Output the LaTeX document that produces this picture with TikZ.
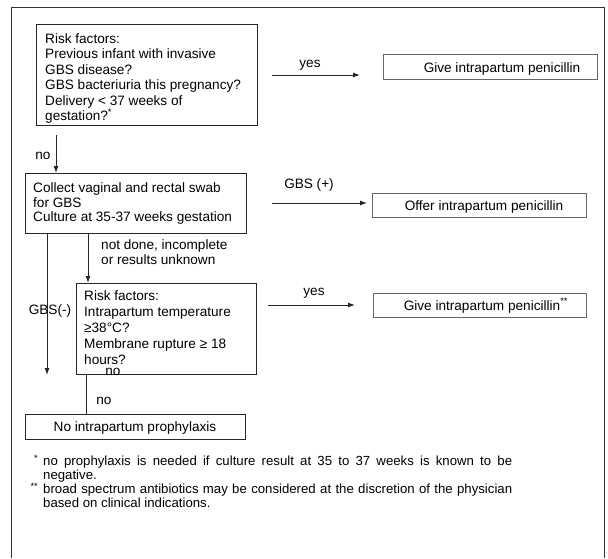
\documentclass[tikz,border=0pt]{standalone}
\usepackage{fontspec}
\setmainfont{Liberation Sans}
\usetikzlibrary{arrows.meta}
\begin{document}
\begin{tikzpicture}[x=1pt,y=-1pt,
  every node/.style={font=\fontsize{13.6}{15.4}\selectfont, inner sep=0pt},
  box/.style={draw=black!85, line width=1pt, anchor=north west, rectangle},
  rbox/.style={draw=black!60, line width=0.9pt, anchor=north west, rectangle},
  txt/.style={anchor=north west, align=left},
  lab/.style={anchor=base},
  conn/.style={draw=black!85, line width=1pt},
  arr/.style={conn, -{Latex[length=7pt,width=5pt]}}
]
\useasboundingbox (0,0) rectangle (608,558);
% outer frame
\coordinate (fbl) at (11,558);
\coordinate (ftl) at (11,7);
\coordinate (ftr) at (604,7);
\coordinate (fbr) at (604,558);
\draw[black!80, line width=1pt] (fbl) -- (ftl) -- (ftr) -- (fbr);

% boxes
\node[box, minimum width=221, minimum height=101] (b1) at (36,24) {};
\node[txt] (b1t) at (45,33.5) {Risk factors:\\Previous infant with invasive\\GBS disease?\\GBS bacteriuria this pregnancy?\\Delivery < 37 weeks of\\gestation?\textsuperscript{*}};

\node[rbox, minimum width=214, minimum height=25] (g1) at (383,54) {};
\node[lab] (g1t) at (502,72) {Give intrapartum penicillin};

\node[box, minimum width=221, minimum height=60] (b2) at (25,173) {};
\node[txt, font=\fontsize{13.6}{14.6}\selectfont] (b2t) at (33,182.5) {Collect vaginal and rectal swab\\for GBS\\Culture at 35-37 weeks gestation};

\node[rbox, minimum width=214, minimum height=24] (off) at (372,193) {};
\node[lab] (offt) at (484,210) {Offer intrapartum penicillin};

\node[box, minimum width=180, minimum height=91] (b3) at (76,283) {};
\node[txt, font=\fontsize{13.6}{16.2}\selectfont] (b3t) at (84,290) {Risk factors:\\Intrapartum temperature\\≥38°C?\\Membrane rupture ≥ 18\\hours?};

\node[rbox, minimum width=213, minimum height=24] (g2) at (373,293) {};
\node[lab] (g2t) at (486,310) {Give intrapartum penicillin\textsuperscript{**}};

\node[box, minimum width=220, minimum height=25] (nob) at (25,414) {};
\node[lab] (nobt) at (135,431) {No intrapartum prophylaxis};

% connectors
\coordinate (y1s) at (272,75);
\draw[arr, shorten >=23pt] (y1s) -- (y1s -| g1.west);
\node[lab] (lyes1) at (310,67) {yes};

\coordinate (n1s) at (56,135);
\draw[arr] (n1s) -- (n1s |- b2.north);
\node[lab] (lno1) at (43,159) {no};

\coordinate (gps) at (272,203);
\draw[arr, shorten >=5pt] (gps) -- (gps -| off.west);
\node[lab] (lgbsp) at (309,188) {GBS (+)};

\coordinate (nds) at ([xshift=63pt]b2.south west);
\draw[arr] (nds) -- (nds |- b3.north);
\node[txt] (lnd) at (101,239.5) {not done, incomplete\\or results unknown};

\coordinate (gms) at ([xshift=22pt]b2.south west);
\draw[arr, shorten >=39pt] (gms) -- (gms |- nob.north);
\node[lab] (lgbsm) at (50,314) {GBS(-)};

\coordinate (y2s) at (268,305);
\draw[arr, shorten >=18pt] (y2s) -- (y2s -| g2.west);
\node[lab] (lyes2) at (314,295) {yes};

\coordinate (n2s) at ([xshift=10pt]b3.south west);
\draw[conn] (n2s) -- (n2s |- nob.north);
\node[lab] (lno2) at (113,375) {no};
\node[lab] (lno3) at (104,404) {no};

% footnotes
\node[anchor=north west, text width=469pt, align=justify, font=\fontsize{13.2}{13.8}\selectfont] (fn) at (43,455)
{\hyphenpenalty=10000\noindent\llap{\textsuperscript{*}\hspace{5pt}}no prophylaxis is needed if culture result at 35 to 37 weeks is known to be\linebreak negative.\par
\noindent\llap{\textsuperscript{**}\hspace{5pt}}broad spectrum antibiotics may be considered at the discretion of the physician\linebreak based on clinical indications.};
\end{tikzpicture}
\end{document}
